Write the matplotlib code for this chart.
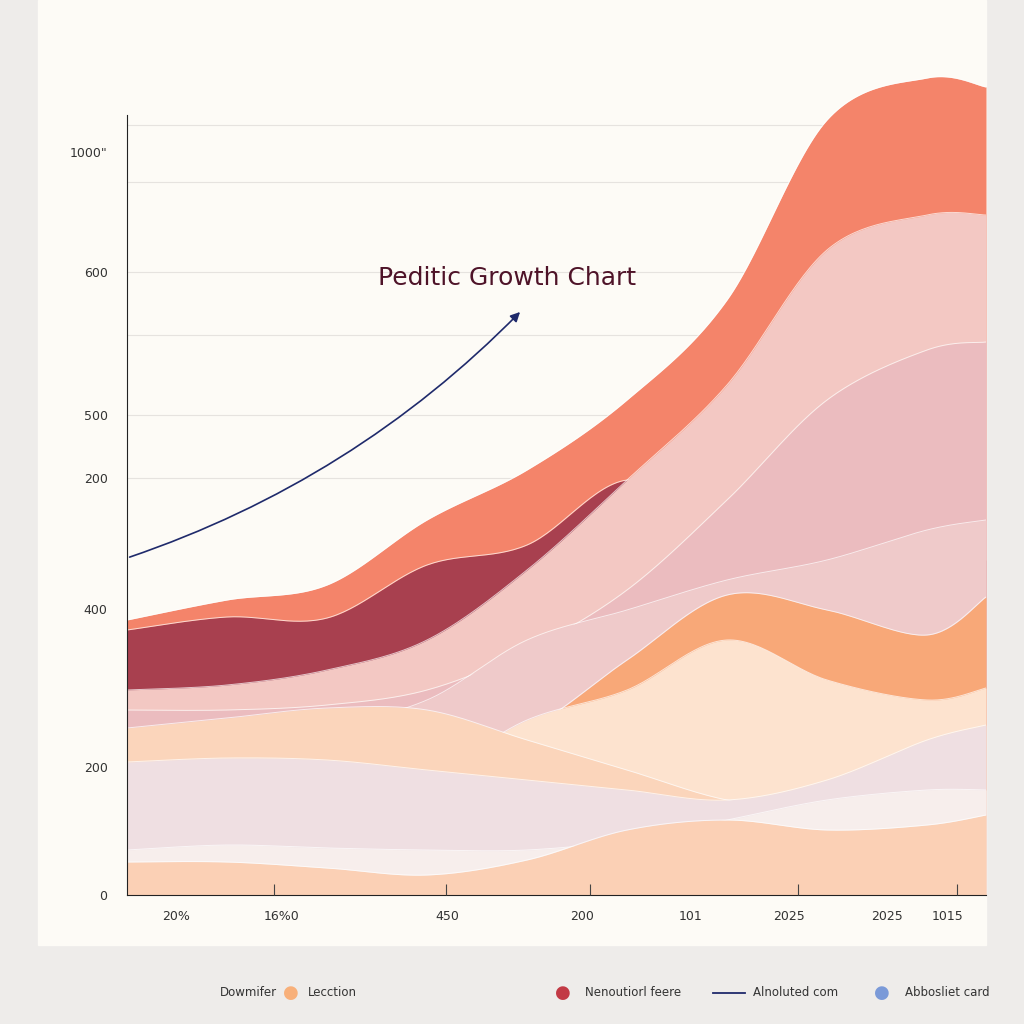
import numpy as np
import matplotlib.pyplot as plt
from matplotlib.patches import Rectangle

# layer top edges (pixel-ish units measured from the baseline, sampled along x)
xs = [0, 100, 200, 300, 400, 500, 600, 700, 800, 859]
coral = [620, 600, 585, 520, 470, 400, 300, 120, 78, 87]
darkred = [630, 617, 618, 565, 545, 480, 520, 560, 560, 560]
pink = [690, 685, 670, 640, 570, 480, 385, 250, 215, 215]
rose = [710, 710, 705, 690, 650, 590, 500, 400, 350, 342]
rose2 = [730, 728, 725, 700, 640, 610, 580, 560, 530, 520]
orange = [770, 770, 770, 760, 730, 660, 595, 610, 635, 597]
cream = [780, 780, 780, 775, 720, 690, 640, 680, 700, 688]
peach = [728, 718, 708, 710, 740, 770, 800, 810, 800, 790]
palepink = [762, 758, 760, 770, 780, 790, 800, 780, 740, 725]
whitish = [850, 845, 848, 850, 850, 840, 820, 800, 790, 790]
bottom = [862, 862, 868, 875, 860, 830, 820, 830, 825, 815]

layers = [
    (coral, "#f4846a"), (darkred, "#a8404f"), (pink, "#f3c8c3"),
    (rose, "#ebbcbf"), (rose2, "#efcaca"), (orange, "#f8a878"),
    (cream, "#fde3cf"), (peach, "#fbd5bb"), (palepink, "#efdfe2"),
    (whitish, "#f7eeec"), (bottom, "#fbd0b5"),
]

ytick_pos = [743, 623, 480, 417, 286, 128, 0]
ytick_lab = ['1000"', "600", "500", "200", "400", "200", "0"]
xtick_pos = [49, 155, 320, 455, 564, 662, 760, 821]
xtick_lab = ["20%", "16%0", "450", "200", "101", "2025", "2025", "1015"]
xmark_pos = [147, 319, 463, 671, 830]


def smooth(x, y):
    # catmull-rom through the sampled points
    x = np.array(x, float); y = np.array(y, float)
    px = np.concatenate([[x[0]], x, [x[-1]]])
    py = np.concatenate([[y[0]], y, [y[-1]]])
    ox, oy = [], []
    for i in range(1, len(px) - 2):
        t = np.linspace(0, 1, 30, endpoint=False)
        for p, o in ((px, ox), (py, oy)):
            p0, p1, p2, p3 = p[i - 1], p[i], p[i + 1], p[i + 2]
            o.extend(0.5 * (2 * p1 + (-p0 + p2) * t + (2 * p0 - 5 * p1 + 4 * p2 - p3) * t ** 2
                            + (-p0 + 3 * p1 - 3 * p2 + p3) * t ** 3))
    ox.append(x[-1]); oy.append(y[-1])
    return np.array(ox), np.array(oy)


fig = plt.figure(figsize=(10.24, 10.24), dpi=100, facecolor="#eeecea")
fig.patches.append(Rectangle((38 / 1024, 79 / 1024), 948 / 1024, 945 / 1024,
                             transform=fig.transFigure, color="#fdfbf6", zorder=-5))
ax = fig.add_axes([127 / 1024, 129 / 1024, 859 / 1024, 895 / 1024])
ax.patch.set_alpha(0)
ax.set_xlim(0, 859)
ax.set_ylim(0, 895)

for gy in [770, 713, 623, 560, 480, 417]:
    ax.axhline(gy, color="#e6e3df", lw=0.8, zorder=0)

for i, (top, col) in enumerate(layers):
    sx, sy = smooth(xs, top)
    z = 2 + i * 0.1
    ax.fill_between(sx, 0, 895 - sy, color=col, lw=0, zorder=z)
    ax.plot(sx, 895 - sy, color="white", lw=0.7, alpha=0.7, zorder=z + 0.05)

ax.annotate("", xy=(395, 585), xytext=(0, 337),
            arrowprops=dict(arrowstyle="-|>", color="#1f2a6b", lw=1.2,
                            connectionstyle="arc3,rad=0.12", mutation_scale=14), zorder=5)
ax.text(380, 617, "Peditic Growth Chart", fontsize=18, color="#4e1328",
        ha="center", va="center", zorder=6)

for s in ["top", "right"]:
    ax.spines[s].set_visible(False)
for s in ["left", "bottom"]:
    ax.spines[s].set_color("#222222")
    ax.spines[s].set_zorder(10)
ax.spines["left"].set_bounds(0, 780)
ax.xaxis.set_zorder(10)
ax.set_yticks(ytick_pos)
ax.set_yticklabels(ytick_lab, fontsize=9, color="#333333")
ax.tick_params(axis="y", length=0, pad=14)
ax.set_xticks(xmark_pos)
ax.set_xticklabels([])
ax.tick_params(axis="x", direction="in", length=8, color="#444444")
for p, l in zip(xtick_pos, xtick_lab):
    ax.text(p, -22, l, fontsize=9, color="#333333", ha="center", va="center")

ly = 31 / 1024
fig.text(220 / 1024, ly, "Dowmifer", fontsize=8.5, color="#333333", va="center")
fig.text(291 / 1024, ly, "●", fontsize=13, color="#f8b07a", va="center", ha="center")
fig.text(308 / 1024, ly, "Lecction", fontsize=8.5, color="#333333", va="center")
fig.text(563 / 1024, ly, "●", fontsize=13, color="#c23a45", va="center", ha="center")
fig.text(585 / 1024, ly, "Nenoutiorl feere", fontsize=8.5, color="#333333", va="center")
fig.add_artist(plt.Line2D([713 / 1024, 745 / 1024], [ly, ly], color="#1f2a6b", lw=1.3))
fig.text(753 / 1024, ly, "Alnoluted com", fontsize=8.5, color="#333333", va="center")
fig.text(882 / 1024, ly, "●", fontsize=13, color="#7b9ad8", va="center", ha="center")
fig.text(905 / 1024, ly, "Abbosliet card", fontsize=8.5, color="#333333", va="center")

fig.savefig("out.png", dpi=100, facecolor=fig.get_facecolor())
